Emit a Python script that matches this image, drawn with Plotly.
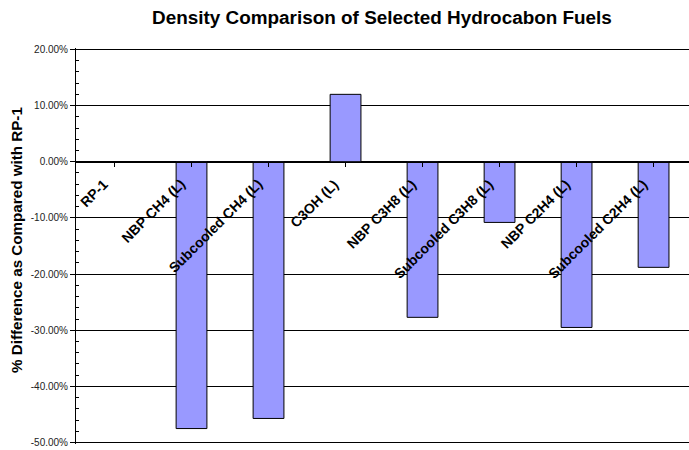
import plotly.graph_objects as go

categories = ["RP-1", "NBP CH4 (L)", "Subcooled CH4 (L)", "C3OH (L)",
              "NBP C3H8 (L)", "Subcooled C3H8 (L)", "NBP C2H4 (L)", "Subcooled C2H4 (L)"]
pct_diff = [0.0, -47.5, -45.7, 12.0, -27.7, -10.8, -29.5, -18.8]

y_tickvals = [20, 10, 0, -10, -20, -30, -40, -50]
y_ticktext = ["20.00%", "10.00%", "0.00%", "-10.00%", "-20.00%", "-30.00%", "-40.00%", "-50.00%"]

FONT = "Arial, Liberation Sans, sans-serif"
ymin, ymax = -50, 20
pad = 0.25
xs = list(range(len(categories)))

fig = go.Figure()
fig.add_trace(go.Bar(
    x=xs, y=pct_diff,
    marker=dict(color="#9999FF",
                line=dict(color="black", width=[0 if v == 0 else 1 for v in pct_diff])),
    width=0.4, hoverinfo="skip",
))

# category labels just under the zero line
for xi, name in zip(xs, categories):
    fig.add_annotation(
        text="<b>%s</b>" % name, textangle=-45, x=xi, y=0, xref="x", yref="y",
        xanchor="right", yanchor="top", xshift=-2, yshift=-13, showarrow=False,
        borderpad=0, font=dict(size=14, family=FONT, color="black"),
    )

fig.add_annotation(
    text="<b>% Difference as Compared with RP-1</b>", textangle=-90,
    xref="paper", yref="paper", x=-60/613, y=0.5 + 6/396,
    xanchor="center", yanchor="middle", showarrow=False,
    font=dict(size=15.2, family=FONT, color="black"),
)

fig.update_layout(
    width=689, height=450,
    margin=dict(l=76, r=0, t=48, b=6, autoexpand=False),
    paper_bgcolor="white", plot_bgcolor="white",
    showlegend=False,
    font=dict(family=FONT, color="black"),
    title=dict(text="<b>Density Comparison of Selected Hydrocabon Fuels</b>",
               x=382/689, xanchor="center", y=1-17/450, yanchor="middle",
               font=dict(size=18.9, family=FONT, color="black")),
    xaxis=dict(
        range=[-0.5, 7.46], tickmode="array", automargin=False,
        tickvals=xs, showticklabels=False,
        tickson="boundaries", ticks="outside", ticklen=4, tickcolor="black",
        showgrid=False, showline=True, linecolor="black", linewidth=1,
        anchor="free", position=(0 - (ymin - pad)) / (ymax - ymin + 2 * pad), zeroline=False,
    ),
    yaxis=dict(
        range=[ymin - pad, ymax + pad], tickmode="array", tickvals=y_tickvals, ticktext=y_ticktext,
        automargin=False,
        ticks="outside", ticklen=5, tickcolor="black",
        minor=dict(dtick=2, ticks="inside", ticklen=3, tickcolor="black", showgrid=False),
        showgrid=True, gridcolor="black", gridwidth=1,
        showline=True, linecolor="black", linewidth=1, zeroline=False,
        tickfont=dict(size=10, family=FONT, color="#222"),
    ),
)

fig.write_html("out.html", post_script="document.body.style.margin='0';",
               config={"displayModeBar": False, "staticPlot": True})
